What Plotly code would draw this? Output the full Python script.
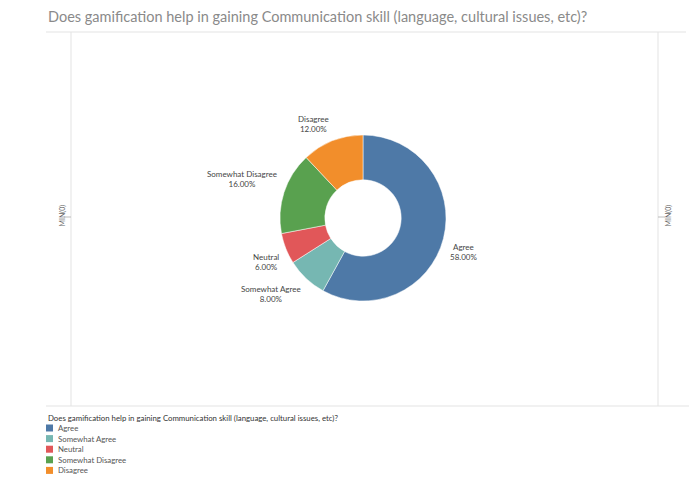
import math
import plotly.graph_objects as go

# Survey responses
categories = ["Agree", "Somewhat Agree", "Neutral", "Somewhat Disagree", "Disagree"]
shares = [58.00, 8.00, 6.00, 16.00, 12.00]
colors = ["#4e79a7", "#76b7b2", "#e15759", "#59a14f", "#f28e2b"]
question = "Does gamification help in gaining Communication skill (language, cultural issues, etc)?"

W, H = 689, 480
FONT = "Lato"

# donut geometry in pixels
CX, CY, R = 363, 218, 83


def px(x):
    return x / W


def py(y):
    return 1 - y / H


fig = go.Figure()
fig.add_trace(go.Pie(
    labels=categories,
    values=shares,
    marker=dict(colors=colors, line=dict(color="white", width=0.5)),
    hole=0.46,
    sort=False,
    direction="clockwise",
    rotation=0,
    textinfo="none",
    hoverinfo="label+percent",
    showlegend=False,
    domain=dict(x=[px(CX - R), px(CX + R)], y=[py(CY + R), py(CY - R)]),
))

shapes = []
annotations = []

# slice labels placed just outside the ring at each slice's mid angle
total = sum(shares)
acc = 0.0
for cat, val in zip(categories, shares):
    mid = (acc + val / 2) / total * 2 * math.pi
    acc += val
    lx = CX + (R + 5) * math.sin(mid)
    ly = CY - (R + 5) * math.cos(mid)
    annotations.append(dict(
        text=f"{cat}<br>{val:.2f}%", x=px(lx), y=py(ly), xref="paper", yref="paper",
        xanchor="left" if math.sin(mid) >= 0 else "right",
        yanchor="top" if math.cos(mid) < 0 else "bottom",
        align="center", showarrow=False,
        font=dict(size=8, color="#444", family=FONT),
    ))

line_col = "#e3e3e3"
# pane frame
shapes.append(dict(type="line", xref="paper", yref="paper", x0=px(46), x1=px(686), y0=py(32), y1=py(32),
                   line=dict(color=line_col, width=1)))
shapes.append(dict(type="line", xref="paper", yref="paper", x0=px(46), x1=1, y0=py(406), y1=py(406),
                   line=dict(color=line_col, width=1)))
for xv in (71, 658):
    shapes.append(dict(type="line", xref="paper", yref="paper", x0=px(xv), x1=px(xv), y0=py(32), y1=py(406),
                       line=dict(color=line_col, width=1)))
# axis ticks
shapes.append(dict(type="line", xref="paper", yref="paper", x0=px(64), x1=px(71), y0=py(217), y1=py(217),
                   line=dict(color="#bbb", width=1)))
shapes.append(dict(type="line", xref="paper", yref="paper", x0=px(658), x1=px(665), y0=py(217), y1=py(217),
                   line=dict(color="#bbb", width=1)))
for xv in (56, 675):
    annotations.append(dict(text="MIN(0)", textangle=-90, x=px(xv), y=py(216), xref="paper", yref="paper",
                            showarrow=False, font=dict(size=7, color="#666", family=FONT)))

# title
annotations.append(dict(text=question, x=px(46), y=py(17), xref="paper", yref="paper", xanchor="left",
                        yanchor="middle", showarrow=False, font=dict(size=14.5, color="#8a8a8a", family=FONT)))

# legend
annotations.append(dict(text=question, x=px(46), y=py(418), xref="paper", yref="paper", xanchor="left",
                        yanchor="middle", showarrow=False, font=dict(size=7.8, color="#333", family=FONT)))
for i, (cat, col) in enumerate(zip(categories, colors)):
    yc = 428 + i * 10.6
    shapes.append(dict(type="rect", xref="paper", yref="paper", x0=px(46), x1=px(53), y0=py(yc - 3.5),
                       y1=py(yc + 3.5), fillcolor=col, line=dict(width=0)))
    annotations.append(dict(text=cat, x=px(56), y=py(yc), xref="paper", yref="paper", xanchor="left",
                            yanchor="middle", showarrow=False, font=dict(size=7.8, color="#555", family=FONT)))

fig.update_layout(
    width=W, height=H,
    margin=dict(l=0, r=0, t=0, b=0),
    paper_bgcolor="white",
    plot_bgcolor="white",
    shapes=shapes,
    annotations=annotations,
)

fig.write_html("out.html")
